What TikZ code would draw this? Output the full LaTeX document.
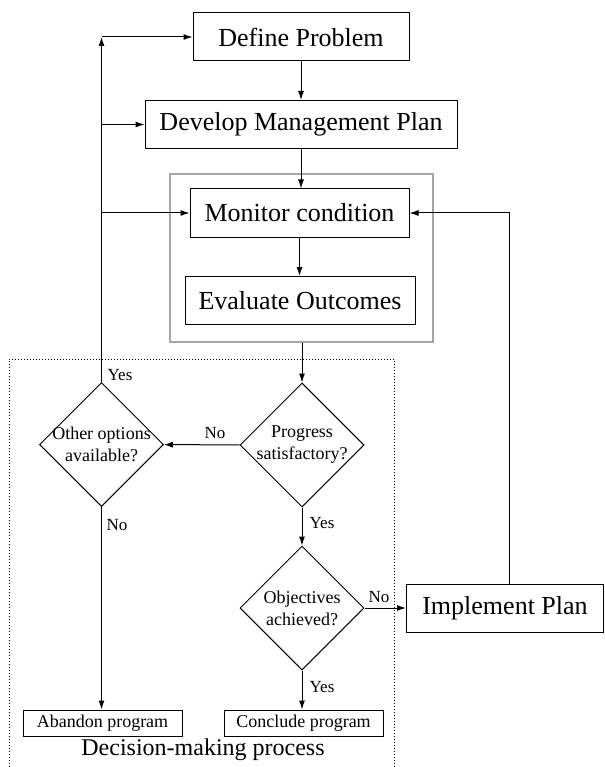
\documentclass[tikz,border=0pt]{standalone}
\usepackage{fontspec}
\setmainfont{Liberation Serif}
\usetikzlibrary{shapes.geometric, arrows.meta}

\begin{document}
\begin{tikzpicture}[x=1pt, y=-1pt,
  line width=1pt,
  box/.style={draw, rectangle, inner sep=0pt, minimum height=48pt, font=\fontsize{26}{30}\selectfont},
  smallbox/.style={draw, rectangle, inner sep=0pt, minimum width=159pt, minimum height=26pt, font=\fontsize{18}{22}\selectfont},
  decision/.style={draw, diamond, aspect=1, minimum size=124pt, inner sep=0pt},
  qtext/.style={font=\fontsize{18}{22}\selectfont, align=center},
  lbl/.style={font=\fontsize{17}{20}\selectfont, inner sep=1pt},
  arrow/.style={-{Latex[length=9pt, width=6pt]}}]
\useasboundingbox (0,0) rectangle (604,767);

% upper boxes
\node [draw=gray!70, line width=1.2pt, minimum width=263pt, minimum height=168pt] (cycle) at (301.5, 258) {};
\node [box, minimum width=216pt] (def) at (301, 37) {Define Problem};
\node [box, minimum width=312pt] (dev) at (301, 124.5) {Develop Management Plan};
\node [box, minimum width=219pt] (mon) at (299.5, 213) {Monitor condition};
\node [box, minimum width=230pt] (eval) at (300, 300.5) {Evaluate Outcomes};
\node [box, minimum width=197pt] (impl) at (505, 608) {Implement Plan};

% decision-making process
\draw [dotted, line width=1pt] (9, 767) |- (394, 359) -- (394, 767);
\node [decision, label={[qtext]center:Other options\\available?}] (opts) at (101.5, 444.5) {};
\node [decision, label={[qtext]center:Progress\\satisfactory?}] (prog) at (302, 445) {};
\node [decision, label={[qtext]center:Objectives\\achieved?}] (obj) at (302, 608) {};
\node [smallbox] (aban) at (102.5, 723) {Abandon program};
\node [smallbox] (conc) at (303.5, 723) {Conclude program};
\node [font=\fontsize{24}{28}\selectfont] (dmp) at (203, 750) {Decision-making process};

% connectors
\draw [arrow] (def) -- (dev);
\draw [arrow] (dev.south) -- (dev.south |- mon.north);
\draw [arrow] (mon.south) -- (mon.south |- eval.north);
\draw [arrow] (cycle.south -| prog.north) -- (prog.north);
\draw [arrow] (prog) -- (opts);
\node [lbl] (progno) at (215, 433) {No};
\coordinate (back) at (opts.north |- def.west);
\draw [arrow] (opts.north) -- (back);
\draw [arrow] (back) -- (def.west);
\draw [arrow] (opts.north |- dev.west) -- (dev.west);
\draw [arrow] (opts.north |- mon.west) -- (mon.west);
\node [lbl] (optsyes) at (120, 375) {Yes};
\draw [arrow] (opts.south) -- (opts.south |- aban.north);
\node [lbl] (optsno) at (117, 525) {No};
\draw [arrow] (prog) -- (obj);
\node [lbl] (progyes) at (322, 523) {Yes};
\draw [arrow] (obj.east) -- (impl.west);
\node [lbl] (objno) at (379, 597) {No};
\draw [arrow] ([xshift=4pt]impl.north) |- (mon.east);
\draw [arrow] (obj.south) -- (obj.south |- conc.north);
\node [lbl] (objyes) at (322, 687) {Yes};
\end{tikzpicture}
\end{document}
